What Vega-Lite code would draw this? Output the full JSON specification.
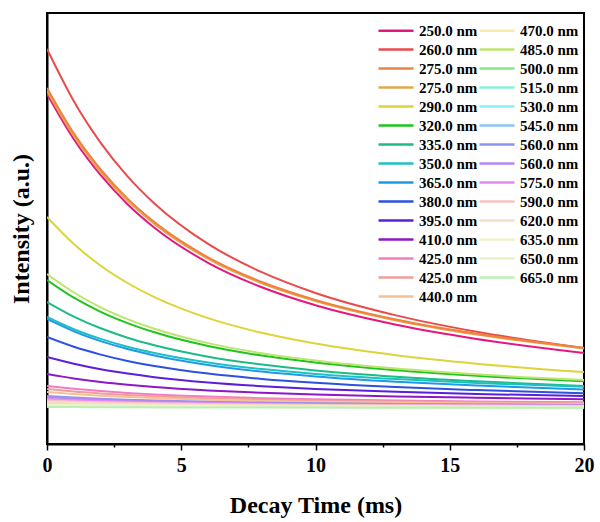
{
  "$schema": "https://vega.github.io/schema/vega-lite/v6.json",
  "autosize": "none",
  "width": 537,
  "height": 431,
  "padding": {"left": 47, "top": 13, "right": 16, "bottom": 78},
  "background": "white",
  "config": {
    "view": {"stroke": "black", "strokeWidth": 2},
    "font": "Liberation Serif"
  },
  "data": {
    "values": [
      {"w":"250.0 nm","t":0,"v":350},{"w":"250.0 nm","t":1,"v":304.8},{"w":"250.0 nm","t":2,"v":268.8},{"w":"250.0 nm","t":3,"v":239.8},{"w":"250.0 nm","t":4,"v":216.3},{"w":"250.0 nm","t":6,"v":181.2},{"w":"250.0 nm","t":8,"v":156.7},{"w":"250.0 nm","t":10,"v":138.7},{"w":"250.0 nm","t":13,"v":119.3},{"w":"250.0 nm","t":16,"v":105.1},{"w":"250.0 nm","t":20,"v":91.0},
      {"w":"260.0 nm","t":0,"v":395},{"w":"260.0 nm","t":1,"v":342.8},{"w":"260.0 nm","t":2,"v":301.2},{"w":"260.0 nm","t":3,"v":267.7},{"w":"260.0 nm","t":4,"v":240.6},{"w":"260.0 nm","t":6,"v":200.1},{"w":"260.0 nm","t":8,"v":171.8},{"w":"260.0 nm","t":10,"v":151.0},{"w":"260.0 nm","t":13,"v":128.6},{"w":"260.0 nm","t":16,"v":112.2},{"w":"260.0 nm","t":20,"v":95.9},
      {"w":"275.0 nm ","t":0,"v":353},{"w":"275.0 nm ","t":1,"v":308.0},{"w":"275.0 nm ","t":2,"v":272.2},{"w":"275.0 nm ","t":3,"v":243.4},{"w":"275.0 nm ","t":4,"v":220.1},{"w":"275.0 nm ","t":6,"v":185.2},{"w":"275.0 nm ","t":8,"v":160.8},{"w":"275.0 nm ","t":10,"v":143.0},{"w":"275.0 nm ","t":13,"v":123.6},{"w":"275.0 nm ","t":16,"v":109.5},{"w":"275.0 nm ","t":20,"v":95.5},
      {"w":"275.0 nm","t":0,"v":356},{"w":"275.0 nm","t":1,"v":310.6},{"w":"275.0 nm","t":2,"v":274.5},{"w":"275.0 nm","t":3,"v":245.4},{"w":"275.0 nm","t":4,"v":221.9},{"w":"275.0 nm","t":6,"v":186.6},{"w":"275.0 nm","t":8,"v":162.0},{"w":"275.0 nm","t":10,"v":144.0},{"w":"275.0 nm","t":13,"v":124.4},{"w":"275.0 nm","t":16,"v":110.2},{"w":"275.0 nm","t":20,"v":96.1},
      {"w":"290.0 nm","t":0,"v":227},{"w":"290.0 nm","t":1,"v":199.9},{"w":"290.0 nm","t":2,"v":178.3},{"w":"290.0 nm","t":3,"v":161.0},{"w":"290.0 nm","t":4,"v":146.9},{"w":"290.0 nm","t":6,"v":125.9},{"w":"290.0 nm","t":8,"v":111.2},{"w":"290.0 nm","t":10,"v":100.4},{"w":"290.0 nm","t":13,"v":88.8},{"w":"290.0 nm","t":16,"v":80.3},{"w":"290.0 nm","t":20,"v":71.9},
      {"w":"320.0 nm","t":0,"v":164},{"w":"320.0 nm","t":1,"v":146.3},{"w":"320.0 nm","t":2,"v":132.2},{"w":"320.0 nm","t":3,"v":120.9},{"w":"320.0 nm","t":4,"v":111.7},{"w":"320.0 nm","t":6,"v":98.0},{"w":"320.0 nm","t":8,"v":88.4},{"w":"320.0 nm","t":10,"v":81.4},{"w":"320.0 nm","t":13,"v":73.7},{"w":"320.0 nm","t":16,"v":68.2},{"w":"320.0 nm","t":20,"v":62.7},
      {"w":"335.0 nm","t":0,"v":142},{"w":"335.0 nm","t":1,"v":127.4},{"w":"335.0 nm","t":2,"v":115.7},{"w":"335.0 nm","t":3,"v":106.3},{"w":"335.0 nm","t":4,"v":98.7},{"w":"335.0 nm","t":6,"v":87.3},{"w":"335.0 nm","t":8,"v":79.4},{"w":"335.0 nm","t":10,"v":73.6},{"w":"335.0 nm","t":13,"v":67.3},{"w":"335.0 nm","t":16,"v":62.7},{"w":"335.0 nm","t":20,"v":58.1},
      {"w":"350.0 nm","t":0,"v":127},{"w":"350.0 nm","t":1,"v":114.8},{"w":"350.0 nm","t":2,"v":105.1},{"w":"350.0 nm","t":3,"v":97.3},{"w":"350.0 nm","t":4,"v":91.0},{"w":"350.0 nm","t":6,"v":81.5},{"w":"350.0 nm","t":8,"v":74.9},{"w":"350.0 nm","t":10,"v":70.1},{"w":"350.0 nm","t":13,"v":64.9},{"w":"350.0 nm","t":16,"v":61.0},{"w":"350.0 nm","t":20,"v":57.2},
      {"w":"365.0 nm","t":0,"v":125},{"w":"365.0 nm","t":1,"v":112.7},{"w":"365.0 nm","t":2,"v":102.9},{"w":"365.0 nm","t":3,"v":95.0},{"w":"365.0 nm","t":4,"v":88.6},{"w":"365.0 nm","t":6,"v":79.1},{"w":"365.0 nm","t":8,"v":72.4},{"w":"365.0 nm","t":10,"v":67.5},{"w":"365.0 nm","t":13,"v":62.2},{"w":"365.0 nm","t":16,"v":58.4},{"w":"365.0 nm","t":20,"v":54.6},
      {"w":"380.0 nm","t":0,"v":107},{"w":"380.0 nm","t":1,"v":97.2},{"w":"380.0 nm","t":2,"v":89.4},{"w":"380.0 nm","t":3,"v":83.1},{"w":"380.0 nm","t":4,"v":78.0},{"w":"380.0 nm","t":6,"v":70.4},{"w":"380.0 nm","t":8,"v":65.1},{"w":"380.0 nm","t":10,"v":61.2},{"w":"380.0 nm","t":13,"v":56.9},{"w":"380.0 nm","t":16,"v":53.9},{"w":"380.0 nm","t":20,"v":50.8},
      {"w":"395.0 nm","t":0,"v":87},{"w":"395.0 nm","t":1,"v":80.2},{"w":"395.0 nm","t":2,"v":74.7},{"w":"395.0 nm","t":3,"v":70.4},{"w":"395.0 nm","t":4,"v":66.8},{"w":"395.0 nm","t":6,"v":61.5},{"w":"395.0 nm","t":8,"v":57.8},{"w":"395.0 nm","t":10,"v":55.1},{"w":"395.0 nm","t":13,"v":52.2},{"w":"395.0 nm","t":16,"v":50.0},{"w":"395.0 nm","t":20,"v":47.9},
      {"w":"410.0 nm","t":0,"v":70},{"w":"410.0 nm","t":1,"v":65.6},{"w":"410.0 nm","t":2,"v":62.1},{"w":"410.0 nm","t":3,"v":59.3},{"w":"410.0 nm","t":4,"v":57.0},{"w":"410.0 nm","t":6,"v":53.6},{"w":"410.0 nm","t":8,"v":51.2},{"w":"410.0 nm","t":10,"v":49.4},{"w":"410.0 nm","t":13,"v":47.5},{"w":"410.0 nm","t":16,"v":46.2},{"w":"410.0 nm","t":20,"v":44.8},
      {"w":"425.0 nm","t":0,"v":58},{"w":"425.0 nm","t":1,"v":55.2},{"w":"425.0 nm","t":2,"v":52.9},{"w":"425.0 nm","t":3,"v":51.1},{"w":"425.0 nm","t":4,"v":49.6},{"w":"425.0 nm","t":6,"v":47.4},{"w":"425.0 nm","t":8,"v":45.8},{"w":"425.0 nm","t":10,"v":44.7},{"w":"425.0 nm","t":13,"v":43.5},{"w":"425.0 nm","t":16,"v":42.6},{"w":"425.0 nm","t":20,"v":41.7},
      {"w":"425.0 nm ","t":0,"v":55},{"w":"425.0 nm ","t":1,"v":52.5},{"w":"425.0 nm ","t":2,"v":50.6},{"w":"425.0 nm ","t":3,"v":49.0},{"w":"425.0 nm ","t":4,"v":47.7},{"w":"425.0 nm ","t":6,"v":45.8},{"w":"425.0 nm ","t":8,"v":44.5},{"w":"425.0 nm ","t":10,"v":43.5},{"w":"425.0 nm ","t":13,"v":42.5},{"w":"425.0 nm ","t":16,"v":41.7},{"w":"425.0 nm ","t":20,"v":40.9},
      {"w":"440.0 nm","t":0,"v":52},{"w":"440.0 nm","t":1,"v":49.9},{"w":"440.0 nm","t":2,"v":48.3},{"w":"440.0 nm","t":3,"v":47.0},{"w":"440.0 nm","t":4,"v":45.9},{"w":"440.0 nm","t":6,"v":44.3},{"w":"440.0 nm","t":8,"v":43.1},{"w":"440.0 nm","t":10,"v":42.3},{"w":"440.0 nm","t":13,"v":41.4},{"w":"440.0 nm","t":16,"v":40.8},{"w":"440.0 nm","t":20,"v":40.1},
      {"w":"470.0 nm","t":0,"v":41},{"w":"470.0 nm","t":1,"v":40.4},{"w":"470.0 nm","t":2,"v":39.8},{"w":"470.0 nm","t":3,"v":39.4},{"w":"470.0 nm","t":4,"v":39.1},{"w":"470.0 nm","t":6,"v":38.6},{"w":"470.0 nm","t":8,"v":38.2},{"w":"470.0 nm","t":10,"v":38.0},{"w":"470.0 nm","t":13,"v":37.7},{"w":"470.0 nm","t":16,"v":37.5},{"w":"470.0 nm","t":20,"v":37.3},
      {"w":"485.0 nm","t":0,"v":170},{"w":"485.0 nm","t":1,"v":151.5},{"w":"485.0 nm","t":2,"v":136.7},{"w":"485.0 nm","t":3,"v":124.9},{"w":"485.0 nm","t":4,"v":115.3},{"w":"485.0 nm","t":6,"v":100.9},{"w":"485.0 nm","t":8,"v":90.8},{"w":"485.0 nm","t":10,"v":83.5},{"w":"485.0 nm","t":13,"v":75.5},{"w":"485.0 nm","t":16,"v":69.7},{"w":"485.0 nm","t":20,"v":64.0},
      {"w":"500.0 nm","t":0,"v":39},{"w":"500.0 nm","t":1,"v":38.6},{"w":"500.0 nm","t":2,"v":38.3},{"w":"500.0 nm","t":3,"v":38.1},{"w":"500.0 nm","t":4,"v":37.9},{"w":"500.0 nm","t":6,"v":37.6},{"w":"500.0 nm","t":8,"v":37.3},{"w":"500.0 nm","t":10,"v":37.2},{"w":"500.0 nm","t":13,"v":37.0},{"w":"500.0 nm","t":16,"v":36.9},{"w":"500.0 nm","t":20,"v":36.8},
      {"w":"515.0 nm","t":0,"v":40},{"w":"515.0 nm","t":1,"v":39.5},{"w":"515.0 nm","t":2,"v":39.1},{"w":"515.0 nm","t":3,"v":38.7},{"w":"515.0 nm","t":4,"v":38.5},{"w":"515.0 nm","t":6,"v":38.1},{"w":"515.0 nm","t":8,"v":37.8},{"w":"515.0 nm","t":10,"v":37.6},{"w":"515.0 nm","t":13,"v":37.4},{"w":"515.0 nm","t":16,"v":37.2},{"w":"515.0 nm","t":20,"v":37.0},
      {"w":"530.0 nm","t":0,"v":43},{"w":"530.0 nm","t":1,"v":42.1},{"w":"530.0 nm","t":2,"v":41.4},{"w":"530.0 nm","t":3,"v":40.8},{"w":"530.0 nm","t":4,"v":40.3},{"w":"530.0 nm","t":6,"v":39.6},{"w":"530.0 nm","t":8,"v":39.1},{"w":"530.0 nm","t":10,"v":38.8},{"w":"530.0 nm","t":13,"v":38.4},{"w":"530.0 nm","t":16,"v":38.1},{"w":"530.0 nm","t":20,"v":37.8},
      {"w":"545.0 nm","t":0,"v":46},{"w":"545.0 nm","t":1,"v":44.7},{"w":"545.0 nm","t":2,"v":43.7},{"w":"545.0 nm","t":3,"v":42.9},{"w":"545.0 nm","t":4,"v":42.2},{"w":"545.0 nm","t":6,"v":41.2},{"w":"545.0 nm","t":8,"v":40.5},{"w":"545.0 nm","t":10,"v":40.0},{"w":"545.0 nm","t":13,"v":39.4},{"w":"545.0 nm","t":16,"v":39.0},{"w":"545.0 nm","t":20,"v":38.6},
      {"w":"560.0 nm","t":0,"v":48},{"w":"560.0 nm","t":1,"v":46.4},{"w":"560.0 nm","t":2,"v":45.2},{"w":"560.0 nm","t":3,"v":44.2},{"w":"560.0 nm","t":4,"v":43.4},{"w":"560.0 nm","t":6,"v":42.2},{"w":"560.0 nm","t":8,"v":41.4},{"w":"560.0 nm","t":10,"v":40.7},{"w":"560.0 nm","t":13,"v":40.1},{"w":"560.0 nm","t":16,"v":39.6},{"w":"560.0 nm","t":20,"v":39.1},
      {"w":"560.0 nm ","t":0,"v":47},{"w":"560.0 nm ","t":1,"v":45.6},{"w":"560.0 nm ","t":2,"v":44.4},{"w":"560.0 nm ","t":3,"v":43.5},{"w":"560.0 nm ","t":4,"v":42.8},{"w":"560.0 nm ","t":6,"v":41.7},{"w":"560.0 nm ","t":8,"v":40.9},{"w":"560.0 nm ","t":10,"v":40.3},{"w":"560.0 nm ","t":13,"v":39.7},{"w":"560.0 nm ","t":16,"v":39.3},{"w":"560.0 nm ","t":20,"v":38.8},
      {"w":"575.0 nm","t":0,"v":45},{"w":"575.0 nm","t":1,"v":43.8},{"w":"575.0 nm","t":2,"v":42.9},{"w":"575.0 nm","t":3,"v":42.2},{"w":"575.0 nm","t":4,"v":41.6},{"w":"575.0 nm","t":6,"v":40.7},{"w":"575.0 nm","t":8,"v":40.0},{"w":"575.0 nm","t":10,"v":39.6},{"w":"575.0 nm","t":13,"v":39.1},{"w":"575.0 nm","t":16,"v":38.7},{"w":"575.0 nm","t":20,"v":38.3},
      {"w":"590.0 nm","t":0,"v":43.5},{"w":"590.0 nm","t":1,"v":42.6},{"w":"590.0 nm","t":2,"v":41.8},{"w":"590.0 nm","t":3,"v":41.2},{"w":"590.0 nm","t":4,"v":40.7},{"w":"590.0 nm","t":6,"v":40.0},{"w":"590.0 nm","t":8,"v":39.5},{"w":"590.0 nm","t":10,"v":39.1},{"w":"590.0 nm","t":13,"v":38.7},{"w":"590.0 nm","t":16,"v":38.4},{"w":"590.0 nm","t":20,"v":38.1},
      {"w":"620.0 nm","t":0,"v":42},{"w":"620.0 nm","t":1,"v":41.2},{"w":"620.0 nm","t":2,"v":40.6},{"w":"620.0 nm","t":3,"v":40.1},{"w":"620.0 nm","t":4,"v":39.7},{"w":"620.0 nm","t":6,"v":39.1},{"w":"620.0 nm","t":8,"v":38.7},{"w":"620.0 nm","t":10,"v":38.4},{"w":"620.0 nm","t":13,"v":38.0},{"w":"620.0 nm","t":16,"v":37.8},{"w":"620.0 nm","t":20,"v":37.6},
      {"w":"635.0 nm","t":0,"v":39.5},{"w":"635.0 nm","t":1,"v":39.1},{"w":"635.0 nm","t":2,"v":38.7},{"w":"635.0 nm","t":3,"v":38.4},{"w":"635.0 nm","t":4,"v":38.2},{"w":"635.0 nm","t":6,"v":37.9},{"w":"635.0 nm","t":8,"v":37.6},{"w":"635.0 nm","t":10,"v":37.5},{"w":"635.0 nm","t":13,"v":37.3},{"w":"635.0 nm","t":16,"v":37.1},{"w":"635.0 nm","t":20,"v":37.0},
      {"w":"650.0 nm","t":0,"v":38},{"w":"650.0 nm","t":1,"v":37.7},{"w":"650.0 nm","t":2,"v":37.5},{"w":"650.0 nm","t":3,"v":37.4},{"w":"650.0 nm","t":4,"v":37.2},{"w":"650.0 nm","t":6,"v":37.0},{"w":"650.0 nm","t":8,"v":36.9},{"w":"650.0 nm","t":10,"v":36.8},{"w":"650.0 nm","t":13,"v":36.7},{"w":"650.0 nm","t":16,"v":36.6},{"w":"650.0 nm","t":20,"v":36.5},
      {"w":"665.0 nm","t":0,"v":37},{"w":"665.0 nm","t":1,"v":36.9},{"w":"665.0 nm","t":2,"v":36.8},{"w":"665.0 nm","t":3,"v":36.7},{"w":"665.0 nm","t":4,"v":36.6},{"w":"665.0 nm","t":6,"v":36.5},{"w":"665.0 nm","t":8,"v":36.4},{"w":"665.0 nm","t":10,"v":36.4},{"w":"665.0 nm","t":13,"v":36.3},{"w":"665.0 nm","t":16,"v":36.3},{"w":"665.0 nm","t":20,"v":36.3}
    ]
  },
  "mark": {"type": "line", "strokeWidth": 2, "interpolate": "monotone", "clip": true},
  "encoding": {
    "x": {
      "field": "t", "type": "quantitative",
      "scale": {"domain": [0, 20], "nice": false, "zero": false},
      "axis": {
        "title": "Decay Time (ms)",
        "values": [0, 2.5, 5, 7.5, 10, 12.5, 15, 17.5, 20],
        "format": "~g",
        "labelExpr": "datum.value % 5 === 0 ? datum.label : ''",
        "tickSize": {"condition": {"test": "datum.value % 5 === 0", "value": 6}, "value": 3},
        "tickColor": "black", "tickWidth": 1.5,
        "domainColor": "black", "domainWidth": 2,
        "grid": false,
        "labelFont": "Liberation Serif", "labelFontWeight": "bold", "labelFontSize": 20, "labelColor": "black",
        "labelPadding": 5, "labelOverlap": false, "labelFlush": false,
        "titleFont": "Liberation Serif", "titleFontWeight": "bold", "titleFontSize": 24, "titleColor": "black",
        "titlePadding": 18
      }
    },
    "y": {
      "field": "v", "type": "quantitative",
      "scale": {"domain": [0, 431], "nice": false, "zero": false},
      "axis": {
        "title": "Intensity (a.u.)",
        "labels": false, "ticks": false, "grid": false,
        "domainColor": "black", "domainWidth": 2,
        "titleFont": "Liberation Serif", "titleFontWeight": "bold", "titleFontSize": 24, "titleColor": "black",
        "titlePadding": 14
      }
    },
    "color": {
      "field": "w", "type": "nominal",
      "scale": {
        "domain": ["250.0 nm","260.0 nm","275.0 nm","275.0 nm ","290.0 nm","320.0 nm","335.0 nm","350.0 nm","365.0 nm","380.0 nm","395.0 nm","410.0 nm","425.0 nm","425.0 nm ","440.0 nm","470.0 nm","485.0 nm","500.0 nm","515.0 nm","530.0 nm","545.0 nm","560.0 nm","560.0 nm ","575.0 nm","590.0 nm","620.0 nm","635.0 nm","650.0 nm","665.0 nm"],
        "range": ["#E5177F","#E94B4B","#EE8340","#E2A848","#DDD33A","#1FC41F","#1DBB86","#1EC0C4","#1E9BE6","#2C50E0","#5B1FD9","#8E18C6","#F27DC2","#F29C9C","#F5C193","#F4EDA6","#BDE46E","#83E882","#86F2D5","#88F2F5","#8EC6F2","#8C93EC","#B488F0","#E789F3","#F7C2C4","#F6DFC6","#F5EFCD","#E6F2C8","#B9F0B4"]
      },
      "legend": {
        "title": null,
        "orient": "none",
        "legendX": 330,
        "legendY": 10,
        "columns": 2,
        "columnPadding": -2,
        "rowPadding": 3,
        "clipHeight": 15,
        "symbolType": "stroke",
        "symbolSize": 1225,
        "symbolStrokeWidth": 2.5,
        "labelFont": "Liberation Serif", "labelFontWeight": "bold", "labelFontSize": 15, "labelColor": "black",
        "labelOffset": 4,
        "labelLimit": 200
      }
    }
  }
}
